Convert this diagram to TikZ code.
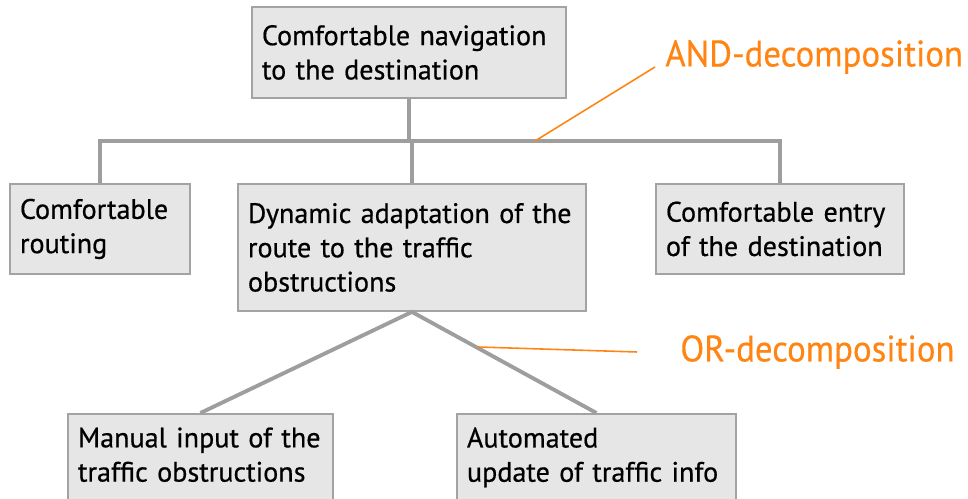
\documentclass[tikz,border=0pt]{standalone}
\usepackage{fontspec}
\setmainfont[FakeBold=0.6]{PT Sans}
\newfontfamily\notefont[FakeStretch=0.945,FakeBold=0.4]{PT Sans}
\usepackage{tikz}
\usetikzlibrary{positioning,calc}
\definecolor{gfill}{HTML}{E6E6E6}
\definecolor{gline}{HTML}{A3A3A3}
\definecolor{gconn}{HTML}{9E9E9E}
\definecolor{nora}{HTML}{FF8412}
\tikzset{
  goal/.style={draw=gline,fill=gfill,line width=1.1pt,align=left,anchor=north west,inner xsep=0.2cm,inner ysep=0.15cm,font=\fontsize{16}{19.5}\selectfont},
  link/.style={draw=gconn,line width=2.6pt},
  orlink/.style={draw=gconn,line width=2.2pt},
  note/.style={draw=nora,line width=0.9pt},
  notelbl/.style={text=nora,font=\notefont\fontsize{21}{24}\selectfont,inner sep=0pt},
}
\begin{document}
\begin{tikzpicture}[x=0.02cm,y=-0.02cm]
  \useasboundingbox (0,0) rectangle (968,499);
  \clip (0,0) rectangle (968,499);
  \node[goal,text width=5.88cm,minimum height=1.82cm] (nav) at (251,6) {Comfortable navigation\\to the destination};
  \node[goal,text width=3.2cm,minimum height=1.8cm] (routing) at (9,183) {Comfortable\\routing};
  \node[goal,text width=6.56cm,minimum height=2.54cm] (dyn) at (237,183) {Dynamic adaptation of the\\route to the traffic\\obstructions};
  \node[goal,text width=4.56cm,minimum height=1.8cm] (entry) at (655,183) {Comfortable entry\\of the destination};
  \node[goal,text width=4.9cm,inner ysep=0.27cm] (manual) at (67,413) {Manual input of the\\traffic obstructions\\[0.3cm]\mbox{}};
  \node[goal,text width=5.18cm,inner ysep=0.27cm] (auto) at (456,413) {Automated\\update of traffic info\\[0.3cm]\mbox{}};
  \coordinate (bus) at (0,141);
  \draw[link] (nav.south) -- (nav.south |- bus);
  \draw[link] (routing.north) -- (routing.north |- bus) -- (entry.north |- bus) -- (entry.north);
  \draw[link] (dyn.north) -- (dyn.north |- bus);
  \draw[orlink] (manual.north) -- (dyn.south) -- (auto.north);
  \node[notelbl,anchor=west] (andlbl) at (665,57) {AND-decomposition};
  \node[notelbl,anchor=west] (orlbl) at (680,352) {OR-decomposition};
  \coordinate (andpt) at (535,141);
  \coordinate (orpt) at (478,347);
  \draw[note] (andpt) -- ([xshift=-0.2cm,yshift=-0.2cm]andlbl.west);
  \draw[note] (orpt) -- ([xshift=-0.86cm]orlbl.west);
\end{tikzpicture}
\end{document}
